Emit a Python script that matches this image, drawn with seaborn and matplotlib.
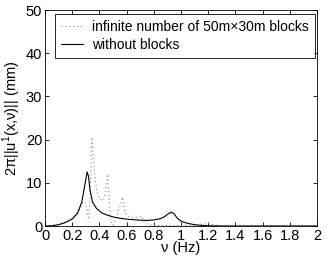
import pandas as pd
import matplotlib
matplotlib.use("Agg")
import matplotlib.pyplot as plt
import seaborn as sns

# frequencies (Hz) and amplitude (mm)
nu_free = [0.0, 0.05, 0.1, 0.15, 0.2, 0.24, 0.27, 0.29, 0.31, 0.32, 0.33, 0.35,
           0.38, 0.42, 0.46, 0.5, 0.55, 0.6, 0.65, 0.7, 0.75, 0.8, 0.85, 0.88,
           0.91, 0.93, 0.95, 0.97, 1.0, 1.05, 1.1, 1.15, 1.2, 1.3, 2.0]
amp_free = [0.0, 0.05, 0.3, 0.8, 1.6, 3.0, 5.5, 9.0, 12.5, 11.5, 8.5, 5.5,
            4.0, 3.0, 2.5, 2.1, 1.8, 1.6, 1.45, 1.35, 1.3, 1.4, 1.7, 2.2,
            2.9, 3.2, 2.8, 1.9, 1.1, 0.6, 0.3, 0.15, 0.05, 0.0, 0.0]

nu_blocks = [0.0, 0.1, 0.2, 0.25, 0.28, 0.3, 0.31, 0.32, 0.33, 0.34, 0.345, 0.36,
             0.38, 0.4, 0.43, 0.445, 0.46, 0.47, 0.48, 0.49, 0.5, 0.53, 0.555,
             0.57, 0.58, 0.6, 0.63, 0.67, 0.7, 0.71, 0.73, 0.76, 0.8, 0.9, 1.0,
             1.1, 1.2, 1.25, 1.3, 2.0]
amp_blocks = [0.0, 0.3, 1.8, 3.5, 5.5, 5.5, 3.0, 1.5, 6.0, 15.0, 20.5, 14.0,
              8.0, 6.2, 6.0, 8.0, 12.0, 7.0, 2.0, 0.3, 0.2, 2.5, 5.0,
              6.7, 4.0, 2.5, 2.0, 2.0, 2.2, 2.3, 0.8, 0.3, 0.2, 0.1, 0.1,
              0.2, 0.6, 0.2, 0.0, 0.0]

lab_blocks = "infinite number of 50m\u00d730m blocks"
lab_free = "without blocks"

df = pd.concat([
    pd.DataFrame({"nu": nu_blocks, "amp": amp_blocks, "case": lab_blocks}),
    pd.DataFrame({"nu": nu_free, "amp": amp_free, "case": lab_free}),
])

sns.set_style("ticks")
plt.rcParams["font.family"] = ["Liberation Sans", "DejaVu Sans"]
plt.rcParams["mathtext.fontset"] = "custom"
plt.rcParams["mathtext.rm"] = "Liberation Sans"
plt.rcParams["text.color"] = "black"
plt.rcParams["axes.labelcolor"] = "black"
plt.rcParams["xtick.color"] = "black"
plt.rcParams["ytick.color"] = "black"

fig = plt.figure(figsize=(3.27, 2.56), dpi=100)
ax = fig.add_axes([45 / 327, 30 / 256, 272 / 327, 216 / 256])

sns.lineplot(data=df, x="nu", y="amp", hue="case", style="case",
             palette={lab_blocks: "#8a8a8a", lab_free: "black"},
             dashes={lab_blocks: (1, 2.5), lab_free: ""},
             linewidth=0.8, sort=False, estimator=None, ax=ax)

ax.set_xlim(0, 2)
ax.set_ylim(0, 50)
ax.set_xticks([0, 0.2, 0.4, 0.6, 0.8, 1, 1.2, 1.4, 1.6, 1.8, 2])
ax.set_xticklabels(["0", "0.2", "0.4", "0.6", "0.8", "1", "1.2", "1.4", "1.6", "1.8", "2"])
ax.set_yticks([0, 10, 20, 30, 40, 50])
ax.tick_params(direction="in", top=True, right=True, length=3, width=0.6,
               labelsize=10.5, pad=2)
for s in ax.spines.values():
    s.set_linewidth(0.6)
    s.set_color("black")
ax.set_xlabel("\u03bd (Hz)", fontsize=10.5, labelpad=-1)
ax.set_ylabel("2\u03c0||u$^{\\rm 1}$(x,\u03bd)|| (mm)", fontsize=10.5, labelpad=2)

leg = ax.legend(loc="upper right", bbox_to_anchor=(315 / 327, 1 - 14 / 256),
                bbox_transform=fig.transFigure, borderaxespad=0,
                fontsize=10, frameon=True, fancybox=False,
                edgecolor="black", borderpad=0.45, handlelength=1.6,
                labelspacing=0.25, handletextpad=0.65)
leg.get_frame().set_linewidth(0.6)
leg.get_frame().set_alpha(1)

fig.savefig("out.png", dpi=100)
